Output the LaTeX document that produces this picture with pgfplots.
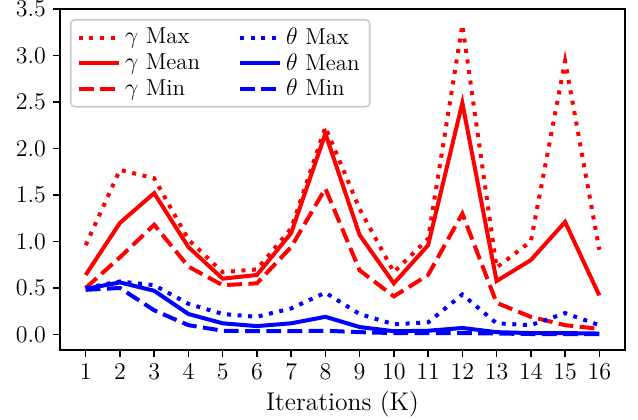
\documentclass[border=0pt]{standalone}
\usepackage{pgfplots}
\usepackage{pgfplotstable}
\pgfplotsset{compat=1.18}

\pgfplotstableread{
x  gmax gmean gmin  tmax tmean tmin
1  0.96 0.64  0.50  0.50 0.49  0.48
2  1.77 1.20  0.83  0.57 0.56  0.50
3  1.68 1.52  1.18  0.53 0.47  0.26
4  1.02 0.94  0.73  0.33 0.22  0.10
5  0.67 0.60  0.53  0.22 0.12  0.04
6  0.70 0.64  0.55  0.19 0.09  0.035
7  1.14 1.09  0.94  0.28 0.12  0.035
8  2.23 2.16  1.57  0.45 0.19  0.04
9  1.35 1.07  0.69  0.22 0.08  0.025
10 0.67 0.55  0.41  0.11 0.035 0.015
11 1.03 0.96  0.64  0.13 0.04  0.015
12 3.33 2.49  1.30  0.43 0.07  0.015
13 0.72 0.575 0.34  0.12 0.025 0.01
14 1.00 0.80  0.19  0.10 0.015 0.005
15 2.94 1.21  0.10  0.23 0.015 0.005
16 0.91 0.42  0.06  0.10 0.01  0.005
}\data

\tikzset{
  maxs/.style={line width=2pt, dash pattern=on 2pt off 3.3pt},
  means/.style={line width=2pt},
  mins/.style={line width=2pt, dash pattern=on 7.4pt off 3.2pt},
}

\begin{document}
\begin{tikzpicture}
\begin{axis}[
  scale only axis, width=282.5pt, height=170.5pt,
  xmin=0.25, xmax=16.75, ymin=-0.167, ymax=3.5,
  xtick={1,...,16},
  ytick={0,0.5,...,3.5},
  yticklabel style={/pgf/number format/.cd,fixed,fixed zerofill,precision=1},
  tick label style={font=\fontsize{11.5}{13}\selectfont},
  tick align=outside, tick pos=left,
  major tick length=3.5pt,
  every tick/.style={black, line width=0.8pt},
  axis line style={line width=0.8pt},
  xlabel={Iterations (K)},
  xlabel style={font=\fontsize{12.8}{15}\selectfont, yshift=1pt},
  legend cell align=left,
  legend columns=2,
  legend style={at={(0,1)}, anchor=north west, xshift=5pt, yshift=-5pt,
    font=\fontsize{11.5}{13}\selectfont,
    draw=black!20, rounded corners=2pt, line width=0.8pt,
    row sep=-1pt, /tikz/every even column/.append style={column sep=17pt}},
  legend image code/.code={\draw[#1] (0pt,0pt) -- (20pt,0pt);},
]
\addplot[red, maxs, forget plot] table[x=x, y=gmax] {\data};
\addplot[red, means, forget plot] table[x=x, y=gmean] {\data};
\addplot[red, mins, forget plot] table[x=x, y=gmin] {\data};
\addplot[blue, maxs, forget plot] table[x=x, y=tmax] {\data};
\addplot[blue, means, forget plot] table[x=x, y=tmean] {\data};
\addplot[blue, mins, forget plot] table[x=x, y=tmin] {\data};

\addlegendimage{red, maxs}\addlegendentry{$\gamma$ Max}
\addlegendimage{blue, maxs}\addlegendentry{$\theta$ Max}
\addlegendimage{red, means}\addlegendentry{$\gamma$ Mean}
\addlegendimage{blue, means}\addlegendentry{$\theta$ Mean}
\addlegendimage{red, mins}\addlegendentry{$\gamma$ Min}
\addlegendimage{blue, mins}\addlegendentry{$\theta$ Min}
\end{axis}
\pgfresetboundingbox
\path[use as bounding box] (-30pt,-34.5pt) rectangle (289pt,175pt);
\end{tikzpicture}
\end{document}
